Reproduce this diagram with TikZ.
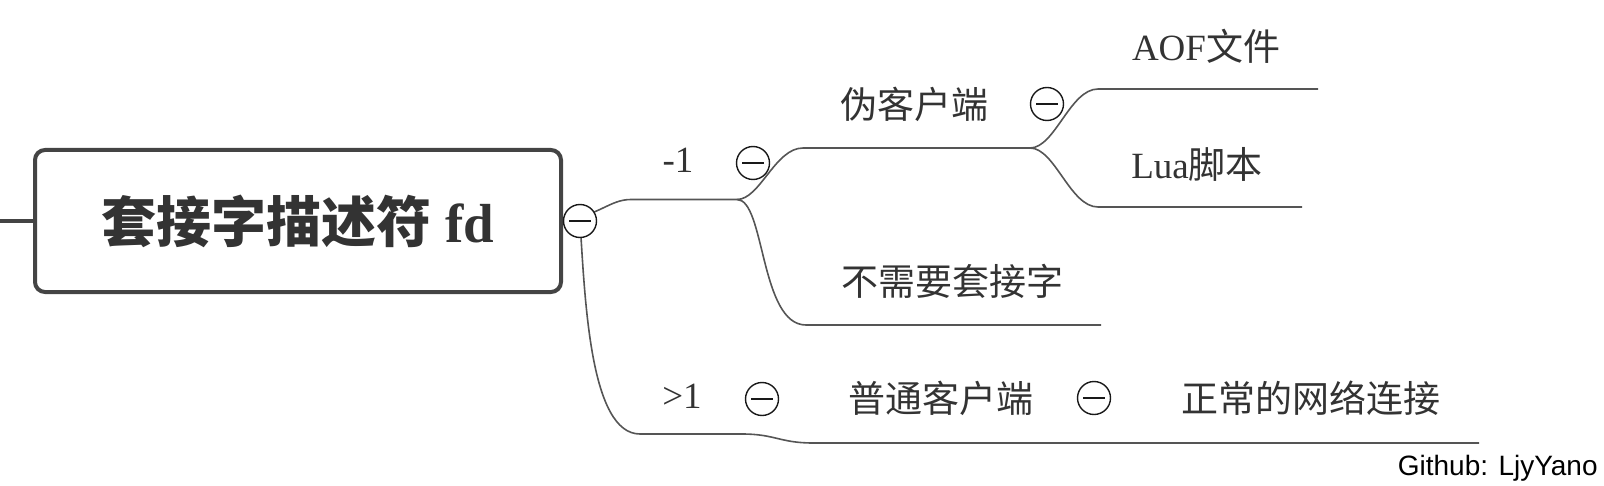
\documentclass[tikz,border=0pt]{standalone}
\usepackage{fontspec}
\setmainfont{Liberation Serif}
\newfontfamily\cjk{Noto Sans CJK SC}
\newfontfamily\gsans{Liberation Sans}
\definecolor{txtcol}{HTML}{333333}
\definecolor{conncol}{HTML}{555555}
\definecolor{boxcol}{HTML}{444444}
\begin{document}
\begin{tikzpicture}[x=0.5pt,y=-0.5pt,
  connector/.style={draw=conncol, line width=0.8pt},
  lbl/.style={text=txtcol, inner sep=0pt, font=\fontsize{18.5pt}{22pt}\selectfont},
  rootbox/.style={draw=boxcol, line width=2pt, rounded corners=5pt, fill=white,
    minimum width=263pt, minimum height=71pt, inner sep=0pt, text=txtcol,
    font=\fontsize{27.5pt}{33pt}\selectfont},
  tog/.style={circle, draw=black!90, fill=white, line width=0.7pt,
    minimum size=16.5pt, inner sep=0pt,
    path picture={\draw[line width=0.7pt,black!90] ([xshift=-5.5pt]path picture bounding box.center) -- ([xshift=5.5pt]path picture bounding box.center);}},
  ]
\useasboundingbox (0,0) rectangle (1604,486);

% root
\node[rootbox] (root) at (298,221) {{\cjk\bfseries 套接字描述符} {\bfseries fd}};
\coordinate (stub) at (0,221);
\draw[draw=boxcol, line width=2pt] (stub) -- (root.west);

% branch points and ends
\coordinate (b1) at (737,199.5);
\coordinate (b2) at (1030,148);
\coordinate (eaof) at (1318,89);
\coordinate (elua) at (1302,207);
\coordinate (eno) at (1101,325);
\coordinate (bgt) at (742,434);
\coordinate (egt) at (1479,443);

% toggles (drawn after connectors below)
\coordinate (c0pos) at (580,221);

% connectors
\draw[connector] (root.east) .. controls (600,215) and (610,199.5) .. (631,199.5) -- (b1);
\draw[connector] (b1) .. controls (760,199.5) and (775,148) .. (803,148) -- (b2);
\draw[connector] (b1) .. controls (765,199.5) and (760,325) .. (806,325) -- (eno);
\draw[connector] (b2) .. controls (1055,148) and (1070,89) .. (1098,89) -- (eaof);
\draw[connector] (b2) .. controls (1055,148) and (1070,207) .. (1098,207) -- (elua);
\draw[connector] (c0pos) .. controls (585,300) and (590,434) .. (640,434) -- (bgt)
  .. controls (775,434) and (780,443) .. (813,443) -- (egt);

% toggles
\node[tog] (c0) at (c0pos) {};
\node[tog] (c1) at (753,163) {};
\node[tog] (c2) at (1047,104) {};
\node[tog] (c3) at (762,399) {};
\node[tog] (c4) at (1094,398) {};

% labels
\node[lbl] (lm1) at (678,160) {-1};
\node[lbl] (lfake) at (914,104) {\cjk 伪客户端};
\node[lbl] (laof) at (1206,46) {AOF{\cjk 文件}};
\node[lbl] (llua) at (1197,164) {Lua{\cjk 脚本}};
\node[lbl] (lno) at (952,281) {\cjk 不需要套接字};
\node[lbl] (lgt) at (682,396) {>1};
\node[lbl] (lnorm) at (941,398) {\cjk 普通客户端};
\node[lbl] (lnet) at (1311,398) {\cjk 正常的网络连接};
\node[text=black, inner sep=0pt, anchor=base east, font=\gsans\fontsize{14pt}{16pt}\selectfont] (gh) at (1598,475) {Github: LjyYano};
\end{tikzpicture}
\end{document}
